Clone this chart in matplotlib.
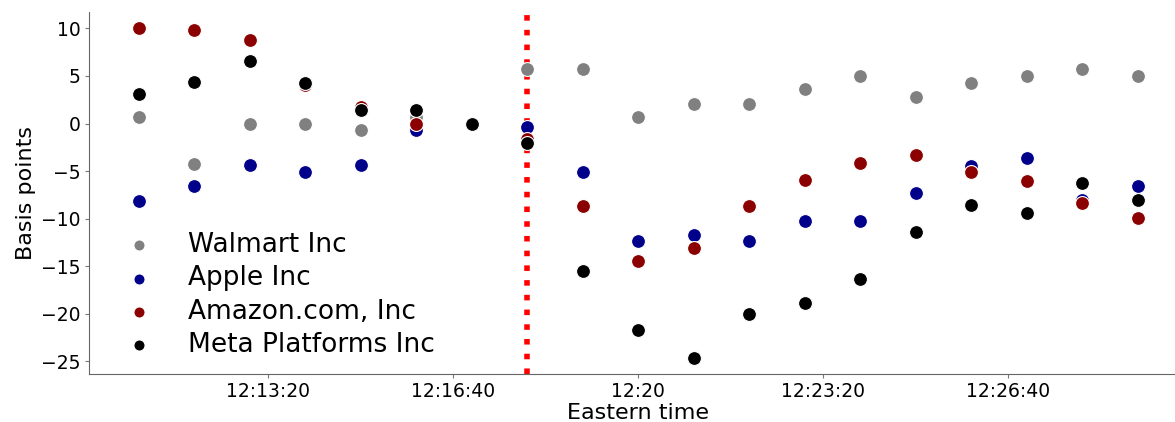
import matplotlib
matplotlib.use("Agg")
import matplotlib.pyplot as plt
from matplotlib.ticker import MultipleLocator, FuncFormatter

# minutes after 12:00 Eastern, one sample per minute
minutes = [11, 12, 13, 14, 15, 16, 17, 18, 19, 20, 21, 22, 23, 24, 25, 26, 27, 28, 29]
event_minute = 18

walmart = [0.7, -4.3, 0.0, 0.0, -0.7, 0.7, 0.0, 5.7, 5.7, 0.7,
           2.1, 2.1, 3.6, 5.0, 2.8, 4.3, 5.0, 5.7, 5.0]
apple = [-8.1, -6.6, -4.4, -5.1, -4.4, -0.7, 0.0, -0.4, -5.1, -12.4,
         -11.7, -12.4, -10.2, -10.2, -7.3, -4.5, -3.6, -8.0, -6.6]
amazon = [10.0, 9.8, 8.8, 4.0, 1.7, -0.1, 0.0, -1.6, -8.7, -14.4,
          -13.1, -8.7, -5.9, -4.2, -3.3, -5.1, -6.0, -8.4, -9.9]
meta = [3.1, 4.4, 6.6, 4.3, 1.4, 1.4, 0.0, -2.0, -15.5, -21.7,
        -24.6, -20.0, -18.9, -16.3, -11.4, -8.6, -9.4, -6.3, -8.0]

series = [("Walmart Inc", walmart, "grey"),
          ("Apple Inc", apple, "darkblue"),
          ("Amazon.com, Inc", amazon, "darkred"),
          ("Meta Platforms Inc", meta, "black")]

# seconds since midnight
secs = [12 * 3600 + m * 60 for m in minutes]


def fmt_time(x, pos):
    x = int(round(x))
    h, rem = divmod(x, 3600)
    m, s = divmod(rem, 60)
    if s == 0:
        return "%d:%02d" % (h, m)
    return "%d:%02d:%02d" % (h, m, s)


fig = plt.figure(figsize=(11.75, 4.22), dpi=100)
ax = fig.add_axes([0.0757, 0.1137, 0.9353, 0.858])

ax.axvline(12 * 3600 + event_minute * 60, color="red", linestyle=":", linewidth=4, zorder=1)
for name, vals, c in series:
    ax.scatter(secs, vals, s=100, color=c, edgecolors="white", linewidths=0.8, label=name, zorder=2)

ax.xaxis.set_major_locator(MultipleLocator(200))
ax.xaxis.set_major_formatter(FuncFormatter(fmt_time))
ax.set_yticks([10, 5, 0, -5, -10, -15, -20, -25])
ax.tick_params(labelsize=13.5, length=3, color="#777777", pad=3)

for sp in ["top", "right"]:
    ax.spines[sp].set_visible(False)
for sp in ["left", "bottom"]:
    ax.spines[sp].set_color("#666666")

ax.set_xlabel("Eastern time", fontsize=16, labelpad=1)
ax.set_ylabel("Basis points", fontsize=16, labelpad=4)

ax.legend(loc="lower left", frameon=False, fontsize=19, markerscale=0.8,
          labelspacing=0.27, handletextpad=0.83, borderpad=0, borderaxespad=0,
          bbox_to_anchor=(0.0218, 0.045))

fig.savefig("out.png", dpi=100)
